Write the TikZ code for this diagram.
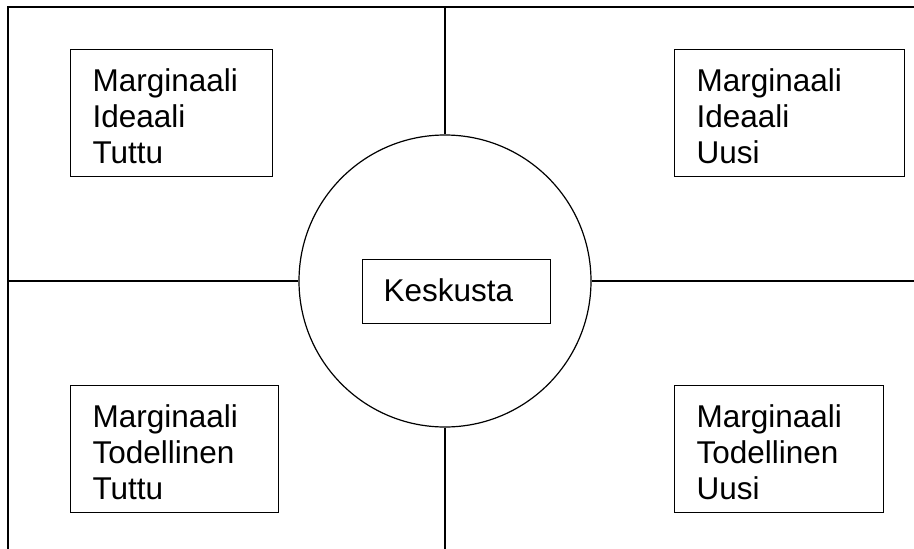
\documentclass[tikz,border=0pt]{standalone}
\usepackage{fontspec}
\setmainfont{Liberation Sans}
\begin{document}
\begin{tikzpicture}[x=1pt,y=-1pt,line width=1.2pt,
  laatikko/.style={draw,line width=1.1pt,align=left,anchor=north west,
    inner xsep=22pt,inner ysep=13pt,text height=28.5pt,
    font=\fontsize{31.5}{36}\selectfont}]
  \useasboundingbox (0,0) rectangle (914,549);
  \coordinate (nw) at (8,7);
  \coordinate (ne) at (914,7);
  \coordinate (sw) at (8,549);
  \coordinate (ylos) at (445,7);
  \coordinate (alas) at (445,549);
  \coordinate (vasen) at (8,281);
  \coordinate (oikea) at (914,281);
  \node[draw,circle,minimum size=292pt,inner sep=0pt] (piiri) at (445,281) {};
  \draw (sw) -- (nw) -- (ne);
  \draw (ylos) -- (piiri.north);
  \draw (piiri.south) -- (alas);
  \draw (vasen) -- (piiri.west);
  \draw (piiri.east) -- (oikea);
  \node[laatikko,text width=158pt] (idtuttu) at (70,49) {Marginaali\\Ideaali\\Tuttu};
  \node[laatikko,text width=186pt] (iduusi) at (674,49) {Marginaali\\Ideaali\\Uusi};
  \node[laatikko,text width=164pt] (totuttu) at (70,385) {Marginaali\\Todellinen\\Tuttu};
  \node[laatikko,text width=165pt] (touusi) at (674,385) {Marginaali\\Todellinen\\Uusi};
  \node[laatikko,text width=146pt,inner xsep=21pt,text depth=9pt] (keskusta) at (362,259) {Keskusta};
\end{tikzpicture}
\end{document}
